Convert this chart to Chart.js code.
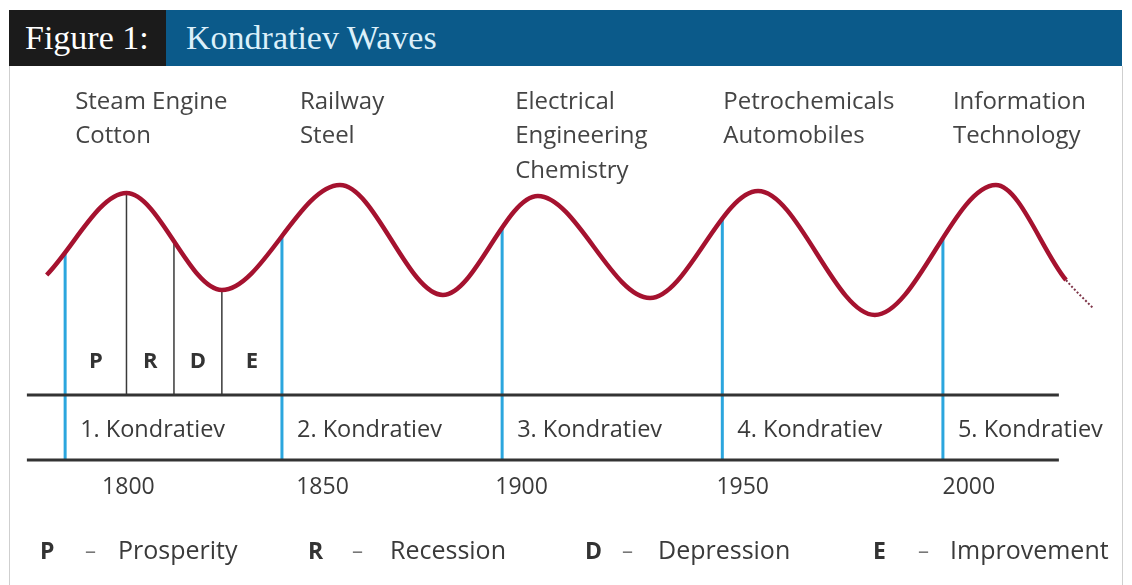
<!DOCTYPE html>
<html>
<head>
<meta charset="utf-8">
<script src="https://cdn.jsdelivr.net/npm/chart.js@4/dist/chart.umd.min.js"></script>
<style>
html,body{margin:0;padding:0;background:#fff;}
#wrap{position:relative;width:1132px;height:585px;overflow:hidden;background:#fff;}
#c{position:absolute;left:0;top:0;}
.hdr{position:absolute;top:10px;height:56px;font-family:"Liberation Serif","DejaVu Serif",serif;font-size:34px;line-height:56px;white-space:nowrap;box-sizing:border-box;}
#h1{left:9px;width:157px;background:#1b1b1b;color:#ffffff;padding-left:16px;}
#h2{left:166px;width:956px;background:#0b5a8a;color:#dcf0fa;padding-left:20px;}
#frame{position:absolute;left:9px;top:66px;width:1112px;height:530px;border-left:1px solid #cfcfcf;border-right:1px solid #cfcfcf;}
</style>
</head>
<body>
<div id="wrap">
  <div id="frame"></div>
  <canvas id="c" width="1132" height="585"></canvas>
  <div class="hdr" id="h1">Figure 1:</div>
  <div class="hdr" id="h2">Kondratiev Waves</div>
</div>
<script>
// ---- data (years on x, schematic activity level on y) ----
// wave turning points: start, peaks, troughs, end of solid line, end of dotted tail
const waveYears  = [1783.4, 1802.4, 1825.1, 1853.2, 1877.7, 1900.3, 1927.0, 1952.7, 1980.5, 2009.3, 2026.0, 2032.4];
const waveLevels = [60, 101, 52.5, 105, 50, 99.5, 48.5, 102, 40, 105, 57.5, 43.5];
const cycleStarts = [1787.8, 1839.4, 1891.8, 1944.2, 1996.7];
const cycleNames = ["1. Kondratiev", "2. Kondratiev", "3. Kondratiev", "4. Kondratiev", "5. Kondratiev"];
const innovations = [["Steam Engine", "Cotton"], ["Railway", "Steel"], ["Electrical", "Engineering", "Chemistry"], ["Petrochemicals", "Automobiles"], ["Information", "Technology"]];
const phaseBounds = [1802.4, 1813.7, 1825.1];
const phaseLetters = ["P", "R", "D", "E"];
const phaseNames = ["Prosperity", "Recession", "Depression", "Improvement"];
const yearTicks = [1800, 1850, 1900, 1950, 2000];
const bandTop = 0;
const bandBottom = -32.5;
const timelineFrom = 1778.7;
const timelineTo = 2024.3;

// ---- level of the drawn (monotone cubic) wave at a given year ----
// same monotone Hermite scheme Chart.js uses, so the vertical lines end on the curve
function waveSlopes(xs, ys) {
  const n = xs.length, d = [], m = [];
  for (let i = 0; i < n - 1; i++) d[i] = (ys[i + 1] - ys[i]) / (xs[i + 1] - xs[i]);
  for (let i = 0; i < n; i++) {
    if (i === 0) m[i] = d[0];
    else if (i === n - 1) m[i] = d[n - 2];
    else if (Math.sign(d[i - 1]) !== Math.sign(d[i])) m[i] = 0;
    else m[i] = (d[i - 1] + d[i]) / 2;
  }
  for (let i = 0; i < n - 1; i++) {
    if (Math.abs(d[i]) < 1e-9) { m[i] = m[i + 1] = 0; continue; }
    const a = m[i] / d[i], b = m[i + 1] / d[i], s = a * a + b * b;
    if (s <= 9) continue;
    const t = 3 / Math.sqrt(s);
    m[i] = a * t * d[i]; m[i + 1] = b * t * d[i];
  }
  return m;
}
const slopes = waveSlopes(waveYears, waveLevels);
function levelAt(yr) {
  let i = 0;
  while (i < waveYears.length - 2 && yr > waveYears[i + 1]) i++;
  const x0 = waveYears[i], x1 = waveYears[i + 1], h = x1 - x0, t = (yr - x0) / h;
  const t2 = t * t, t3 = t2 * t;
  return (2 * t3 - 3 * t2 + 1) * waveLevels[i] + (t3 - 2 * t2 + t) * h * slopes[i]
       + (-2 * t3 + 3 * t2) * waveLevels[i + 1] + (t3 - t2) * h * slopes[i + 1];
}
const lastIdx = waveYears.length - 1;

const datasets = [];
datasets.push({
  label: "wave",
  data: waveYears.map((x, i) => ({x, y: waveLevels[i]})),
  borderColor: "#a5122f",
  borderWidth: 4.5,
  cubicInterpolationMode: "monotone",
  borderCapStyle: "butt",
  pointRadius: 0,
  order: 0,
  segment: {
    borderDash: ctx => ctx.p1DataIndex === lastIdx ? [2, 2] : undefined,
    borderWidth: ctx => ctx.p1DataIndex === lastIdx ? 2 : undefined,
    borderColor: ctx => ctx.p1DataIndex === lastIdx ? "#7d3347" : undefined
  }
});
[bandTop, bandBottom].forEach(v => datasets.push({
  data: [{x: timelineFrom, y: v}, {x: timelineTo, y: v}],
  borderColor: "#333333", borderWidth: 3, pointRadius: 0, order: 1
}));
phaseBounds.forEach(yr => datasets.push({
  data: [{x: yr, y: levelAt(yr)}, {x: yr, y: bandTop}],
  borderColor: "#3a3a3a", borderWidth: 1.5, pointRadius: 0, order: 2
}));
cycleStarts.forEach(yr => datasets.push({
  data: [{x: yr, y: levelAt(yr)}, {x: yr, y: bandBottom}],
  borderColor: "#2ba6de", borderWidth: 3, pointRadius: 0, order: 3
}));

// ---- text layout (annotation only) ----
const FONT = '"Open Sans", "Noto Sans", sans-serif';
const innovOffsets = [10, 18, 13, 1, 10];
const yearNudge = [12, -4, -15, -4, 12];
const legendX = [[40, 85, 118], [308, 352, 390], [585, 622, 658], [873, 918, 950]];

const textPlugin = {
  id: "texts",
  afterDatasetsDraw(chart) {
    const ctx = chart.ctx;
    const xs = chart.scales.x;
    const px = v => xs.getPixelForValue(v);
    ctx.save();
    ctx.textBaseline = "middle";
    // innovations
    ctx.fillStyle = "#444444";
    ctx.font = "24px " + FONT;
    ctx.textAlign = "left";
    innovations.forEach((lines, i) => {
      lines.forEach((t, k) => ctx.fillText(t, px(cycleStarts[i]) + innovOffsets[i], 102 + k * 34.5));
    });
    // phase letters
    const b = [cycleStarts[0], ...phaseBounds, cycleStarts[1]];
    ctx.font = "bold 22px " + FONT;
    ctx.fillStyle = "#333";
    ctx.textAlign = "center";
    phaseLetters.forEach((l, i) => ctx.fillText(l, (px(b[i]) + px(b[i + 1])) / 2, 362));
    // cycle names
    ctx.font = "23.5px " + FONT;
    ctx.fillStyle = "#3a3a3a";
    ctx.textAlign = "left";
    cycleNames.forEach((n, i) => ctx.fillText(n, px(cycleStarts[i]) + 15, 430));
    // years
    ctx.font = "23px " + FONT;
    ctx.textAlign = "center";
    yearTicks.forEach((y, i) => ctx.fillText(String(y), px(y) + yearNudge[i], 487));
    // legend
    phaseLetters.forEach((l, i) => {
      ctx.textAlign = "left";
      ctx.font = "bold 23px " + FONT;
      ctx.fillStyle = "#333";
      ctx.fillText(l, legendX[i][0], 552);
      ctx.font = "22px " + FONT;
      ctx.fillStyle = "#777";
      ctx.fillText("–", legendX[i][1], 552);
      ctx.font = "25px " + FONT;
      ctx.fillStyle = "#3a3a3a";
      ctx.fillText(phaseNames[i], legendX[i][2], 552);
    });
    ctx.restore();
  }
};

new Chart(document.getElementById("c"), {
  type: "line",
  data: {datasets},
  options: {
    responsive: false,
    animation: false,
    events: [],
    layout: {padding: 0},
    plugins: {legend: {display: false}, tooltip: {enabled: false}},
    scales: {
      x: {type: "linear", display: false, min: 1772.3, max: 2041.7},
      y: {type: "linear", display: false, min: -95, max: 197.5}
    },
    elements: {point: {radius: 0}, line: {tension: 0}}
  },
  plugins: [textPlugin]
});
</script>
</body>
</html>
